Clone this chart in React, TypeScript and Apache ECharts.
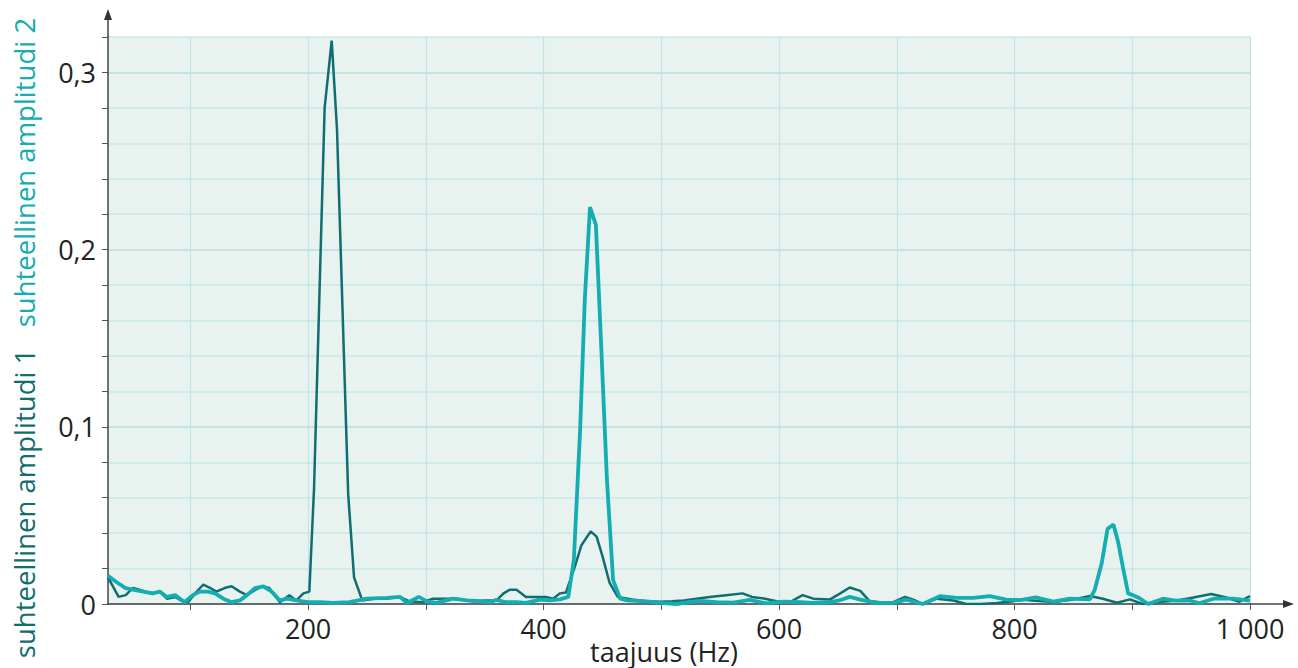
import React, { useEffect, useRef } from "react";
import * as echarts from "echarts";

// Series 1: suhteellinen amplitudi 1 (dark teal)
const freq1 = [30, 35, 39, 45, 51, 57, 62, 68, 74, 80, 87, 92, 98, 104, 111, 117, 122, 129, 135, 142, 148, 155, 161, 167, 176, 184, 190, 196, 201, 205, 214, 220, 224.5, 234, 239, 246, 256, 266, 278, 286, 297, 306, 316, 326, 340, 350, 360, 366, 371, 377, 385, 395, 402, 408, 414, 419, 426, 432, 440, 445, 450, 456, 463, 475, 488, 499, 509, 519, 530, 541, 555, 569, 577, 588, 598, 609, 620, 629, 643, 652, 660, 669, 677, 686, 697, 707, 714, 722, 734, 748, 759, 771, 785, 799, 805, 818, 833, 847, 864, 875, 887, 898, 909, 924, 937, 952, 967, 980, 991, 1000];
const amp1 = [0.015, 0.009, 0.004, 0.005, 0.009, 0.008, 0.007, 0.006, 0.007, 0.003, 0.004, 0.002, 0.001, 0.006, 0.011, 0.009, 0.007, 0.009, 0.01, 0.007, 0.005, 0.008, 0.01, 0.009, 0.001, 0.005, 0.002, 0.006, 0.007, 0.065, 0.28, 0.318, 0.268, 0.062, 0.015, 0.002, 0.003, 0.003, 0.004, 0.0015, 0.001, 0.003, 0.003, 0.003, 0.0015, 0.002, 0.002, 0.006, 0.008, 0.008, 0.004, 0.004, 0.004, 0.003, 0.006, 0.0065, 0.02, 0.033, 0.041, 0.038, 0.027, 0.012, 0.004, 0.0025, 0.0015, 0.0013, 0.0015, 0.002, 0.003, 0.004, 0.005, 0.006, 0.004, 0.003, 0.0015, 0.001, 0.005, 0.003, 0.0025, 0.006, 0.0093, 0.0074, 0.0015, 0.001, 0.001, 0.004, 0.0025, 0.0, 0.003, 0.002, 0.0, 0.0, 0.0006, 0.0015, 0.0026, 0.0019, 0.0011, 0.0022, 0.0045, 0.003, 0.0007, 0.0026, 0.0, 0.0013, 0.0019, 0.0037, 0.0056, 0.0037, 0.0013, 0.0045];

// Series 2: suhteellinen amplitudi 2 (cyan)
const freq2 = [30, 38, 45, 52, 60, 68, 74, 80, 87, 95, 102, 108, 115, 121, 128, 135, 142, 148, 155, 162, 169, 176, 182, 190, 200, 210, 221, 235, 250, 267, 278, 284, 294, 301, 309, 323, 335, 343, 354, 360, 368, 377, 385, 397, 405, 414, 421, 425.7, 431, 435, 439.4, 444.4, 448.7, 453.8, 459, 465, 471, 490, 502, 513, 523, 533, 547, 561, 575, 589, 604, 618, 629, 643, 651, 660, 669, 683, 697, 708, 722, 737, 751, 765, 779, 793, 805, 818, 833, 847, 864, 868, 874, 879, 884, 888, 892, 896.5, 900.5, 905, 913.5, 926, 937, 949, 957, 969, 986, 1000];
const amp2 = [0.016, 0.012, 0.009, 0.008, 0.007, 0.006, 0.007, 0.004, 0.005, 0.001, 0.005, 0.007, 0.007, 0.006, 0.003, 0.001, 0.002, 0.005, 0.009, 0.01, 0.007, 0.002, 0.003, 0.002, 0.001, 0.001, 0.0006, 0.001, 0.003, 0.0035, 0.004, 0.0006, 0.004, 0.0015, 0.0006, 0.003, 0.002, 0.0017, 0.001, 0.0023, 0.001, 0.0011, 0.0006, 0.0025, 0.002, 0.0026, 0.004, 0.025, 0.098, 0.172, 0.224, 0.214, 0.149, 0.07, 0.0136, 0.003, 0.002, 0.0013, 0.0005, 0.0, 0.001, 0.0017, 0.001, 0.0008, 0.0023, 0.0004, 0.0013, 0.001, 0.0006, 0.001, 0.002, 0.004, 0.0025, 0.0006, 0.0006, 0.0025, 0.0, 0.0045, 0.0035, 0.0035, 0.0045, 0.0025, 0.0022, 0.0037, 0.0013, 0.003, 0.0026, 0.0078, 0.0228, 0.0424, 0.0449, 0.035, 0.021, 0.006, 0.005, 0.0037, 0.0, 0.003, 0.0019, 0.002, 0.0004, 0.003, 0.003, 0.0019];

const xTickValues = [100, 200, 300, 400, 500, 600, 700, 800, 900, 1000];
const xLabelValues = [200, 400, 600, 800, 1000];
const yTitle1 = "suhteellinen amplitudi 1";
const yTitle2 = "suhteellinen amplitudi 2";
const xTitle = "taajuus (Hz)";

const DARK = "#106e70";
const CYAN = "#14adb2";
const FONT = "'Open Sans', 'Noto Sans', sans-serif";

export default function App() {
  const ref = useRef<HTMLDivElement>(null);
  useEffect(() => {
    if (!ref.current) return;
    const chart = echarts.init(ref.current, null, { renderer: "svg" });
    const s1 = freq1.map((f, i) => [f, amp1[i]]);
    const s2 = freq2.map((f, i) => [f, amp2[i]]);
    chart.setOption({
      animation: false,
      backgroundColor: "#ffffff",
      grid: {
        left: 108,
        right: 48,
        top: 37,
        bottom: 64,
        show: true,
        backgroundColor: "#e8f3f0",
        borderWidth: 0,
      },
      xAxis: {
        type: "value",
        min: 30,
        max: 1000,
        splitNumber: 10,
        axisLine: { show: true, lineStyle: { color: "#444", width: 1.5 } },
        axisTick: {
          show: true,
          customValues: xTickValues,
          length: 6,
          lineStyle: { color: "#555", width: 1 },
        },
        axisLabel: {
          customValues: xLabelValues,
          margin: 11,
          fontSize: 27,
          fontFamily: FONT,
          color: "#222",
          formatter: (v: number) =>
            v % 200 !== 0 ? "" : v === 1000 ? "1 000" : String(v),
        },
        splitLine: { show: true, lineStyle: { color: "#c3e3e8", width: 1.2 } },
      },
      yAxis: {
        type: "value",
        min: 0,
        max: 0.32,
        interval: 0.02,
        axisLine: { show: true, lineStyle: { color: "#444", width: 1.5 } },
        axisTick: { show: true, length: 6, lineStyle: { color: "#555", width: 1 } },
        axisLabel: {
          margin: 12,
          fontSize: 27,
          fontFamily: FONT,
          color: "#222",
          formatter: (v: number) => {
            const k = Math.round(v * 10);
            if (Math.abs(v * 10 - k) > 1e-6) return "";
            return k === 0 ? "0" : "0," + k;
          },
        },
        splitLine: {
          show: true,
          lineStyle: {
            color: ["#b7dee3", "#cae7ea", "#cae7ea", "#cae7ea", "#cae7ea"],
            width: 1.5,
          },
        },
      },
      series: [
        {
          type: "line",
          data: s1,
          showSymbol: false,
          lineStyle: { color: DARK, width: 2.5 },
          itemStyle: { color: DARK },
          z: 3,
        },
        {
          type: "line",
          data: s2,
          showSymbol: false,
          lineStyle: { color: CYAN, width: 3.8 },
          itemStyle: { color: CYAN },
          z: 4,
        },
      ],
    });

    const origin = chart.convertToPixel({ gridIndex: 0 }, [30, 0]) as number[];
    const xEnd = chart.convertToPixel({ gridIndex: 0 }, [1000, 0]) as number[];
    const yEnd = chart.convertToPixel({ gridIndex: 0 }, [30, 0.32]) as number[];
    const axStyle = { stroke: "#444", lineWidth: 1.5 };
    chart.setOption({
      graphic: [
        {
          type: "line",
          shape: { x1: xEnd[0], y1: xEnd[1], x2: xEnd[0] + 38, y2: xEnd[1] },
          style: axStyle,
          z: 10,
        },
        {
          type: "polygon",
          shape: {
            points: [
              [xEnd[0] + 44, xEnd[1]],
              [xEnd[0] + 33, xEnd[1] - 4],
              [xEnd[0] + 33, xEnd[1] + 4],
            ],
          },
          style: { fill: "#333" },
          z: 10,
        },
        {
          type: "line",
          shape: { x1: yEnd[0], y1: yEnd[1], x2: yEnd[0], y2: yEnd[1] - 22 },
          style: axStyle,
          z: 10,
        },
        {
          type: "polygon",
          shape: {
            points: [
              [yEnd[0], yEnd[1] - 28],
              [yEnd[0] - 4, yEnd[1] - 17],
              [yEnd[0] + 4, yEnd[1] - 17],
            ],
          },
          style: { fill: "#333" },
          z: 10,
        },
        {
          type: "text",
          x: 24,
          y: 338,
          rotation: Math.PI / 2,
          style: {
            text: "{a|" + yTitle1 + "}   {b|" + yTitle2 + "}",
            align: "center",
            verticalAlign: "middle",
            font: "27.5px " + FONT,
            rich: {
              a: { fill: DARK, fontSize: 27.5, fontFamily: FONT },
              b: { fill: CYAN, fontSize: 27.5, fontFamily: FONT },
            },
          },
        },
        {
          type: "text",
          x: (origin[0] + xEnd[0]) / 2 - 15,
          y: 651,
          style: {
            text: xTitle,
            align: "center",
            verticalAlign: "middle",
            fill: "#222",
            font: "27px " + FONT,
          },
        },
      ],
    });
    return () => chart.dispose();
  }, []);
  return (
    <div
      ref={ref}
      style={{ position: "fixed", left: 0, top: 0, width: 1298, height: 668 }}
    />
  );
}
